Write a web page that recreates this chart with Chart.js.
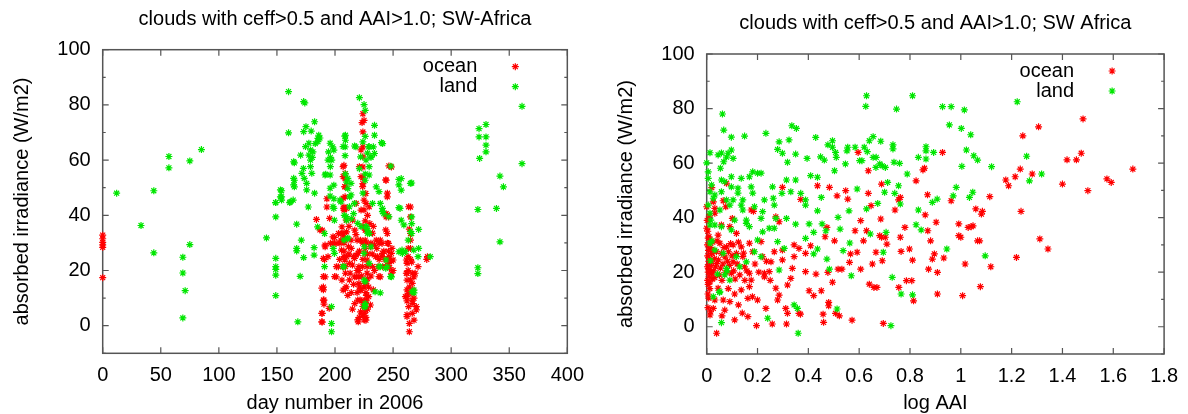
<!DOCTYPE html>
<html>
<head>
<meta charset="utf-8">
<script src="https://cdn.jsdelivr.net/npm/chart.js@4.4.1/dist/chart.umd.min.js"></script>
<style>
  html, body { margin: 0; padding: 0; background: #fff; }
  #wrap { position: relative; width: 1188px; height: 414px; overflow: hidden; }
  canvas { position: absolute; top: 0; }
</style>
</head>
<body>
<div id="wrap">
  <canvas id="dayChart" width="594" height="414" style="left:0"></canvas>
  <canvas id="aaiChart" width="594" height="414" style="left:594px"></canvas>
</div>
<script>
// ---- data: [x, absorbed irradiance W/m2] ----
const seriesNames = ["ocean", "land"];
const irradianceLabels = [0, 20, 40, 60, 80, 100];

// left panel: x = day number in 2006
const dayOcean = [
  [0,32.8],[0,31.5],[0,30.2],[0,29.3],[0,28.4],[0,17.4],
  [184,38.5],[189,34.6],[193,46],[193,43],[191,24],[191.5,17.7],[190,14],[190,13],[190.5,9.3],[190.5,7.8],[189,4.5],[189,1.3],
  [195,6.3],[191.5,28.6],[194,25],[196,29.8],[201,17.7],[199.5,32],[201,29.8],[203,33.4],[187,34.7],[191.4,29.2],[190,24.4],
  [190,17.8],[188.6,13.6],[190,9.3],[188.6,4.5],[188.6,1.4],[198.3,29.9],[198.3,32.2],[201.2,21.4],[199.7,17.8],[195.4,38.9],
  [207.7,58.1],[208.7,55.1],[208.7,53.3],[208.7,50.3],[208.7,46.7],[207.7,43],[207.7,41.9],[210,42.5],[206,35.8],[206,33.4],
  [207.7,32.2],[207.7,30],[207.7,27],[207.7,25],[209,21.4],[209,19],[206,16.5],[209,13.5],[211.6,28.6],[212.6,22.6],[216,25],
  [217,34.6],[217,17.7],[219,31],[220,26.2],[220,1.4],[220.6,21.4],[220.6,20],[220.6,17.7],[220.6,15.3],[221.6,12.9],[221.6,9.3],
  [224,76.8],[225,74.4],[224,70.2],[224,64.8],[224,61.2],[224,57.5],[224,53.6],[224,51.5],[226.5,47.9],[225,45.5],[225,42],
  [226,34.6],[226,31],[226,28],[226,26.2],[227.6,23.8],[227.6,21.4],[227.6,19],[226.6,15.3],[226.6,12],[226.6,9],[226.6,5.5],
  [226.6,3],[226.6,2],[224,3.9],[229,14],[229,10.5],[230.5,7.5],[230.5,28.6],[234,29.2],[235.5,31],[236.5,25],[237,21.4],
  [239,17.7],[240.5,29.8],[240.5,25],[244,52.7],[245,46.7],[244,40.6],[244,39.4],[246,39.4],[245,33.4],[246,29.8],[246,27],
  [246,24],[246,22.6],[248.6,26.2],[248.6,23.4],[248.6,19],[248.6,57.5],[250,23.8],[241,21.4],
  [262,22.6],[262,19],[262,16.5],[262,13],[262,10.5],[262,9],[263,11.7],[264,0.8],[264,-2.2],[265,43],[265,39.4],[265,33.4],
  [265,31],[265,28],[266.5,19],[266.5,15.3],[266.5,9.3],[266.5,4.5],[268,2],[268,17.7],[270,6.9],[270,5.7],[271.5,21.4],
  [279,24],[279.6,25],
  [207.5,42.5],[207,33.6],[205.6,27.4],[208.4,23.8],[206.5,21.4],[207,12.9],[209.6,14.1],[218.2,25.6],[218.2,17.8],[221,14.1],
  [219.6,9.3],[222.4,12.9],[223.8,21.4],[225.2,4.5],[225.2,2.1],[223.8,29.9],[226.7,34.7],[230.9,29.9],[232.3,33.5],[237.9,29.9],
  [237.9,17.8],[243.7,34.7],[245.1,29.9],[246.4,25],[243.7,21.4],[204.2,29.9],[202.8,21.4],[212.4,16.6],[213.8,31],[215.2,38.3],
  [209.6,38.3],[222.4,41.9],[229.4,43.1],[245.1,40.1],[261.4,23.8],[261.4,19],[260.6,10.5],[263.4,6.9],[262,3.3],[266.3,11.7],
  [264.9,16.6],[219.6,2.1],[208.4,31],[216.8,24.4],[226.7,9.3],[226.2,15.4],[232.3,21.4],[235.1,25],[240.8,26.2],
  [223.3,73.6],[222.4,63.7],[207,57.6],[207,54],[208.4,50.4],[221,57.6],[222.4,54],[223.8,50.4],[226.7,44.3],[246.4,57.9],
  [243.7,52.8],[245.1,48],[263.4,43.1],[207,46.2],[218.2,44.3],
  [214,28],[215,22],[218,33],[219,20],[221,27],[222,31],[223,18],[224,24],[225,14],[227,30],[228,26],[228,17],[229,22],
  [231,18],[232,26],[233,13],[234,20],[236,28],[238,24],[239,31],[242,27],[243,24],[247,21],[249,28],[250,20],[212,26],
  [213,19],[214,12],[216,15],[204,24],[205,31],[210,34],[212,36],[224,36],[226,38],[228,40],[230,37],[233,36],[263,25],
  [263,20],[264,14],[265,24],[266,23],[267,13],[267,8],[263,28],[264,35],[262,4],[268,10],[269,19],[223,9],[224,7],[222,5],
  [227,11],[228,6],[221,3],[219,12],[217,8],[215,6],[211,11],[210,25]
];
const dayLand = [
  [12,48],[33,36.3],[44,48.9],[44,26.4],[57,61.3],[57,57.2],[75,59.7],[85,63.8],[75,29.4],[69,24.8],[69,19.1],[71,12.7],[69,2.8],
  [141,31.8],[149,44.6],[154,48.9],[154,46.7],[154,45.5],[149,39.4],[149,24.4],[149,21.4],[149,20.4],[149,18.3],[149,10.9],
  [160,84.8],[160,69.9],[161,44.6],[164,45.5],[165,59],[165,52.7],[165,50.3],[167,36.8],[167,28],[167,27.1],[168,1.4],[170,17.9],
  [171,31],[173,24.7],[173,81.2],[174,80.7],[173,70.3],[175,72.1],[179.5,70.5],[182.4,73.9],[185.3,67.9],[185.3,66.7],[186,69],
  [187,68],[174.6,64.9],[177.5,66.1],[178.9,63.7],[177.5,61.8],[170.4,61.8],[178.9,60],[164.4,59.4],[178.9,57.6],[172.8,57],
  [171.5,55.2],[180,55.2],[173.5,53.4],[164.4,53.4],[164.4,51],[175.6,51.6],[175.6,49.2],[153,49.2],[153,46.7],[161.5,44.9],
  [148.8,44.6],[182.4,48],[177,43],[180.5,61],[181,63],[183,66],[182,28.3],[182,25.6],[185,35.8],
  [191,33.4],[191,21.4],[191.4,54.6],[192,54.9],[194.4,63],[194,60],[195.8,66.1],[196,61],[196,57.6],[197.2,60],[195.8,54.6],
  [195.8,49.8],[195.8,47],[198.3,43.1],[199,50.9],[199,46],[199,42.5],[197,6.9],[197,0.8],[197,-2.2],[199.5,38.2],[198.5,28],
  [199.5,26.2],[199,63.6],[198,64.8],
  [209,69],[209,67.2],[208.7,64.8],[208.7,61.6],[209,55],[210,52],[211,49.7],[208,40],[210,38.2],[207.7,31],[207.7,21.4],
  [211,31.6],[212.6,46.7],[216,40.6],[214,38.8],[218,64.8],[221,56.9],[222,61.2],[221,82.6],[224,66.6],[225,80.1],[226,78],
  [226,68.6],[226,55],[226,52.7],[224,48],[225,26.2],[226,16],[226,8],[226,6.9],[227,35.8],[228,34.6],[229.6,33.4],[231,28.6],
  [229,64.8],[231,61],[233,64.8],[234,62.4],[234,72.6],[234,69],[235.5,50.3],[239,44.3],[241,66],[239,21.4],[239,11.9],
  [242,40.6],[244,23.8],[245,21.4],[248,57.8],[248.6,17.7],
  [208.4,68.7],[207,64.9],[216.8,65.1],[240,66.3],[229.4,64.9],[228,62.5],[230.9,61.2],[226.7,60],[255,53],[255,51],[264.9,51.6],
  [255,42.8],[229.4,57.6],[229.4,54.6],[213.8,51.6],[211,53.4],[204.2,45.5],[213.8,47.4],[216.8,44.3],[232.3,44.3],[237.9,48.6],
  [240.8,42.5],[205,44.9],[212.4,43.1],[209.6,39.5],[219.6,37.1],[226.7,35.9],[228,33.5],[222.4,35.9],[210.9,31.7],[240.8,41.3],
  [246.4,39.5],[259.3,36.5],[265,34.1],[255,26.8],[260.7,26.8],[267.8,27.4],[225.2,28.6],[229.4,22.6],[237.9,21.4],[243.7,20.8],
  [247.9,17.8],[207,21.4],[225.2,16.6],[234.5,12.3],[225.2,6.9],[266.3,12.3],
  [257,53.3],[257,49.1],[256,42.5],[257,38.2],[257.7,27.4],[258,26.2],[266,51.7],[266,39.4],[266,37],[266,33.4],[263,31],
  [268,11.9],[268,12.9],[272,28],[272,34.9],[271.5,25],[282,25],
  [324,71.4],[324,68.4],[324.5,60.6],[323,42.1],[323,21],[323,18.9],[330,72.9],[330,68.4],[330,65.4],[330,63],[342,54.2],
  [345,50.3],[339,42.5],[342,30.4],[361,79.5],[361,58.7]
];

// right panel: x = log AAI
const aaiOcean = [
  [0.004,35],[0.006,32.5],[0.003,30],[0.007,28],[0.004,26],[0.008,24],[0.003,22],[0.006,20],[0.009,18.5],[0.004,17],[0.006,15.5],
  [0.01,21],[0.012,25],[0.015,29],[0.009,33],[0.02,24],[0.018,20],[0.025,28],[0.022,17.5],[0.03,25],[0,36.1],[0,44],
  [0.013,31.8],[0.019,26.9],[0.013,23.2],[0.019,19.6],[0.013,16.5],[0.052,30.6],[0.058,26.9],[0.039,23.2],[0.045,14.1],
  [0.032,9.8],[0.065,9.8],[0.091,9.2],[0.026,6.7],[0.071,6.1],[0.013,4.3],[0.11,2.5],[0.039,-2.4],[0.078,29.3],[0.104,30],
  [0.117,26.9],[0.104,23.8],[0.097,19.6],[0.136,29.3],[0.142,25.7],[0.149,22],[0.168,19.6],[0.136,13.5],[0.168,14.7],
  [0.175,17.1],[0.162,10.4],[0.2,9.8],[0.233,6.7],[0.227,18.3],[0.227,19.6],[0.246,20.2],[0.272,14.1],[0.285,11.6],[0.279,9.8],
  [0.311,6.7],[0.318,15.3],[0.331,17.7],[0.337,21.4],[0.344,25.7],[0.298,24.5],[0.298,28.1],[0.253,23.8],[0.266,27.5],
  [0.22,25.7],[0.214,31.2],[0.168,30.6],[0.181,27.5],[0.363,28.7],[0.344,30],[0.389,26.9],[0.389,20.2],[0.318,4.9],[0.363,4.9],
  [0.162,3.7],[0.117,34.2],[0.045,33.6],[0.091,36.7],[0.058,37.3],[0.196,0.4],[0.258,1],[0.314,1],[0.369,4.6],[0.184,42.3],
  [0.078,52.6],[0.298,51.1],[0.37,46.7],[0.065,46.2],[0.026,45.8],[0.032,43.4],[0.075,44],[0.032,41.6],[0.101,39.7],[0.175,42.8],
  [0.272,40.3],[0.285,38.5],[0.02,51],
  [0.005,12],[0.008,10.5],[0.012,14],[0.016,22.5],[0.021,27],[0.024,31],[0.027,20.5],[0.032,18],[0.035,22],[0.038,27.5],
  [0.041,31.5],[0.046,24.5],[0.05,19],[0.054,21.5],[0.06,17],[0.064,23],[0.068,29],[0.072,25.5],[0.076,20],[0.082,24],
  [0.086,27.5],[0.09,22.5],[0.094,30.5],[0.1,26],[0.106,20.5],[0.112,17.5],[0.12,23],[0.125,31],[0.13,19],[0.145,27],
  [0.15,17],[0.158,20.5],[0.19,23],[0.205,20],[0.235,24],[0.25,17],[0.002,39],[0.01,40.5],[0.005,7],[0.015,5.5],[0.06,4],
  [0.085,14],[0.11,12],[0.125,8],[0.14,5],[0.18,11],
  [0.403,13.2],[0.409,29.7],[0.421,11.4],[0.43,19.3],[0.436,51.7],[0.451,13.2],[0.458,4.6],[0.46,1.6],[0.466,33],[0.473,36.4],
  [0.477,19.9],[0.48,8.9],[0.48,7.7],[0.483,51.1],[0.495,16.3],[0.503,31.5],[0.507,4.9],[0.513,48],[0.517,21.1],[0.522,4],
  [0.532,21.1],[0.547,49.9],[0.555,46.8],[0.562,23.6],[0.566,26.7],[0.572,2.4],[0.584,35.2],[0.592,27.3],[0.596,63.9],
  [0.606,38.9],[0.606,21.1],[0.617,31.5],[0.629,35.2],[0.636,57.2],[0.636,48.9],[0.64,15.6],[0.647,44.4],[0.652,23],[0.658,14.4],
  [0.666,27.3],[0.67,14.4],[0.681,33.4],[0.688,32.8],[0.685,39.5],[0.691,24.2],[0.695,1.2],[0.688,52.3],[0.703,32.8],[0.709,30.3],
  [0.741,42.8],[0.755,46.5],[0.762,47.4],[0.756,14.4],[0.765,27.6],[0.762,32.8],[0.78,36.4],[0.786,16.9],[0.798,28.5],
  [0.807,16.9],[0.81,24.4],[0.814,9.5],[0.824,53.5],[0.851,57.5],[0.857,58.1],[0.86,41],[0.869,48.4],[0.87,35.2],[0.873,21.1],
  [0.881,31.5],[0.888,24.8],[0.896,26.7],[0.903,38.3],[0.908,19.9],[0.908,12],[0.928,63.9],[0.933,25.2],[0.962,46.2],
  [0.992,37.7],[0.992,33.4],[1,32.8],[1.007,11.4],[1.017,23],[1.029,36.4],[1.041,36.7],[1.048,37],[1.059,43.2],[1.066,31.5],
  [1.074,31.5],[1.077,14.7],[1.081,41.3],[1.085,42.3],[1.114,47.7],[1.118,22],[1.177,53.8],[1.188,51.7],[1.214,55],[1.219,25.4],
  [1.234,57.8],[1.237,42.3],[1.244,70],[1.281,56],[1.306,73.3],[1.311,32.2],[1.343,28.5],[1.4,52.3],[1.418,61.2],[1.455,61.2],
  [1.474,63.6],[1.481,76.2],[1.5,49.9],[1.575,54.2],[1.592,52.9],[1.677,57.8]
];
const aaiLand = [
  [0.062,78],[0.067,72.1],[0.097,69.5],[0.149,69.9],[0.233,70.9],[0.335,73.7],[0.353,72.7],[0.285,67.8],[0.324,68.5],[0.279,65],
  [0.298,63.6],[0.35,63.3],[0.318,60.3],[0.395,61.7],[0.013,63.8],[0.045,63],[0.058,63.7],[0.084,63.6],[0.097,64.8],[0.078,62.2],
  [0.067,60.5],[0.054,58.1],[0.104,61.7],[0,60.1],[0.006,56.8],[0.006,54.4],[0.019,52],[0.013,49.5],[0.032,48.3],[0.026,47.1],
  [0.006,44.6],[0.013,41.6],[0.016,39.1],[0.032,37.3],[0.052,42.8],[0.058,49.5],[0.071,53.2],[0.058,53.8],[0.097,55],
  [0.123,50.8],[0.097,51.3],[0.104,46.5],[0.123,49],[0.078,46.5],[0.091,44.6],[0.136,54.4],[0.168,55],[0.181,56.8],[0.2,56.3],
  [0.214,56.3],[0.175,51.3],[0.181,49],[0.136,44.6],[0.142,46.5],[0.259,51.3],[0.262,47.1],[0.296,48.9],[0.314,53.8],
  [0.331,49.5],[0.35,53.8],[0.37,48.9],[0.389,46.5],[0.389,44.6],[0.266,44.6],[0.272,39.7],[0.314,39.7],[0.227,46.5],
  [0.22,42.2],[0.214,39.7],[0.142,42.8],[0.156,39.1],[0.168,36.7],[0.11,39.1],[0.188,44],
  [0.013,37.3],[0.058,36.7],[0.097,35.5],[0.156,37.9],[0.22,34.8],[0.246,36.1],[0.266,36.1],[0.279,31.2],[0.305,28.7],
  [0.35,37.6],[0.389,32.4],[0.013,30.6],[0.032,28.1],[0.065,26.9],[0.078,21.4],[0.071,19],[0.091,17.1],[0.052,12.8],[0.026,11],
  [0.188,27.5],[0.214,25.7],[0.156,23.8],[0.285,20.8],[0.2,31.8],[0.117,25.7],[0.13,22],[0.058,1.5],[0.24,3.1],[0.344,8],
  [0.357,6.7],[0.36,-2.4],[0.02,31.5],[0.015,24.2],[0.043,19.3],[0.05,12.6],[0.08,20.5],
  [0.403,37.7],[0.409,55.4],[0.421,34.6],[0.421,26.7],[0.429,69.4],[0.436,54.8],[0.436,42.5],[0.451,47.4],[0.436,28.5],
  [0.448,62.3],[0.454,37.7],[0.463,61.1],[0.469,35.2],[0.473,24.8],[0.477,66.7],[0.483,21.1],[0.495,68.2],[0.495,65.8],
  [0.503,57.2],[0.507,63.9],[0.51,62.1],[0.517,40.1],[0.513,6.5],[0.525,35.8],[0.537,27.9],[0.546,59.7],[0.552,64.5],
  [0.555,65.8],[0.56,42.5],[0.563,30.7],[0.569,18.7],[0.584,65.8],[0.592,50.5],[0.602,60.9],[0.611,60.9],[0.62,65.8],
  [0.629,84.7],[0.626,80.8],[0.632,64.2],[0.629,43.2],[0.64,68.2],[0.644,34],[0.655,69.7],[0.655,62.1],[0.666,58.4],
  [0.667,62.1],[0.673,45.2],[0.685,68],[0.681,59.7],[0.691,59],[0.695,27.3],[0.7,49.3],[0.703,58.4],[0.706,34.6],[0.712,52.9],
  [0.725,0.4],[0.73,18.1],[0.733,66.7],[0.733,65.2],[0.74,48.9],[0.737,60.3],[0.747,79.8],[0.755,51.7],[0.759,59.9],[0.762,45],
  [0.765,12],[0.789,56],[0.81,84.7],[0.81,11.7],[0.824,37.4],[0.833,62.1],[0.833,42.8],[0.863,66],[0.863,64.5],[0.863,61.5],
  [0.844,35.5],[0.888,45.6],[0.893,63.9],[0.907,46.8],[0.928,80.7],[0.962,80.7],[0.955,74],[0.97,48],[0.945,28.5],[0.982,51.1],
  [1.002,72.7],[1.014,79.5],[1.004,58.8],[1.034,47.4],[1.022,64.8],[1.039,70.4],[1.051,62.7],[1.066,61.1],[1.047,49.3],
  [1.096,26],[1.121,58.7],[1.222,82.5],[1.259,62.5],[1.27,53.5],[1.318,56]
];

const RED = "#ff0000";
const GREEN = "#00e600";
const FRAME = "#555555";
const FONT_FAMILY = '"Liberation Sans", Arial, Helvetica, sans-serif';

Chart.defaults.font.family = FONT_FAMILY;
Chart.defaults.font.size = 20;
Chart.defaults.color = "#000";

const toPoints = pairs => pairs.map(p => ({ x: p[0], y: p[1] }));

// gnuplot style frame, inward mirrored tics, title and key
const gnuplotLook = {
  id: "gnuplotLook",
  beforeDatasetsDraw(chart, args, opts) {
    const { ctx, chartArea: a, scales } = chart;
    ctx.save();
    ctx.strokeStyle = FRAME;
    ctx.lineWidth = 1.5;
    ctx.strokeRect(a.left, a.top, a.right - a.left, a.bottom - a.top);
    ctx.lineWidth = 1.2;
    ctx.beginPath();
    scales.x.ticks.forEach(t => {
      const px = scales.x.getPixelForValue(t.value);
      ctx.moveTo(px, a.bottom); ctx.lineTo(px, a.bottom - 6);
      ctx.moveTo(px, a.top); ctx.lineTo(px, a.top + 6);
    });
    scales.y.ticks.forEach(t => {
      const py = scales.y.getPixelForValue(t.value);
      const len = irradianceLabels.includes(t.value) ? 6 : 3;
      ctx.moveTo(a.left, py); ctx.lineTo(a.left + len, py);
      ctx.moveTo(a.right, py); ctx.lineTo(a.right - len, py);
    });
    ctx.stroke();
    ctx.restore();
  },
  afterDraw(chart, args, opts) {
    const { ctx, chartArea: a } = chart;
    ctx.save();
    ctx.font = "20px " + FONT_FAMILY;
    ctx.fillStyle = "#000";
    ctx.textBaseline = "middle";
    ctx.textAlign = "center";
    ctx.fillText(opts.title, (a.left + a.right) / 2, opts.titleY);
    ctx.textAlign = "right";
    chart.data.datasets.forEach((ds, i) => {
      const y = a.top + 17 + i * 20;
      ctx.fillStyle = "#000";
      ctx.fillText(ds.label, a.right - 90, y);
      ctx.strokeStyle = ds.borderColor;
      ctx.lineWidth = 1.2;
      Chart.helpers.drawPoint(ctx, { pointStyle: "star", radius: 3.5, borderWidth: 1.2, rotation: 0 }, a.right - 52, y);
    });
    ctx.restore();
  }
};

function drawChart(id, cfg) {
  return new Chart(document.getElementById(id), {
    type: "scatter",
    data: {
      datasets: [
        { label: seriesNames[0], data: toPoints(cfg.ocean), borderColor: RED, backgroundColor: RED, order: 1, clip: false },
        { label: seriesNames[1], data: toPoints(cfg.land), borderColor: GREEN, backgroundColor: GREEN, order: 0, clip: false }
      ]
    },
    options: {
      responsive: false,
      animation: false,
      devicePixelRatio: 1,
      events: [],
      layout: { padding: { top: cfg.top, right: cfg.right, bottom: 0, left: 0 } },
      elements: { point: { pointStyle: "star", radius: 3.5, hoverRadius: 3.5, borderWidth: 1.2 } },
      plugins: {
        legend: { display: false },
        tooltip: { enabled: false },
        gnuplotLook: { title: cfg.title, titleY: cfg.titleY }
      },
      scales: {
        x: {
          type: "linear",
          min: cfg.xMin, max: cfg.xMax,
          ticks: { stepSize: cfg.xStep, padding: 10, callback: v => +v.toFixed(1) },
          grid: { display: false, drawTicks: false },
          border: { display: false },
          title: { display: true, text: cfg.xTitle, font: { size: 20, lineHeight: 1.05 }, padding: { top: 0, bottom: 0 } },
          afterFit: s => { s.height = cfg.xAxisHeight; }
        },
        y: {
          min: -10, max: 100,
          ticks: { stepSize: 10, padding: 12, callback: v => irradianceLabels.includes(v) ? v : "" },
          grid: { display: false, drawTicks: false },
          border: { display: false },
          title: { display: true, text: "absorbed irradiance (W/m2)", padding: { top: cfg.yTitlePad, bottom: 0 } },
          afterFit: s => { s.width = cfg.yAxisWidth; }
        }
      }
    },
    plugins: [gnuplotLook]
  });
}

drawChart("dayChart", {
  ocean: dayOcean, land: dayLand,
  title: "clouds with ceff>0.5 and AAI>1.0; SW-Africa", titleY: 19,
  xTitle: "day number in 2006", xMin: 0, xMax: 400, xStep: 50,
  top: 49.7, right: 20, xAxisHeight: 60.7, yAxisWidth: 102.7, yTitlePad: 10
});

drawChart("aaiChart", {
  ocean: aaiOcean, land: aaiLand,
  title: "clouds with ceff>0.5 and AAI>1.0; SW Africa", titleY: 23,
  xTitle: "log AAI", xMin: 0, xMax: 1.8, xStep: 0.2,
  top: 54, right: 18, xAxisHeight: 60, yAxisWidth: 112.7, yTitlePad: 20
});
</script>
</body>
</html>
